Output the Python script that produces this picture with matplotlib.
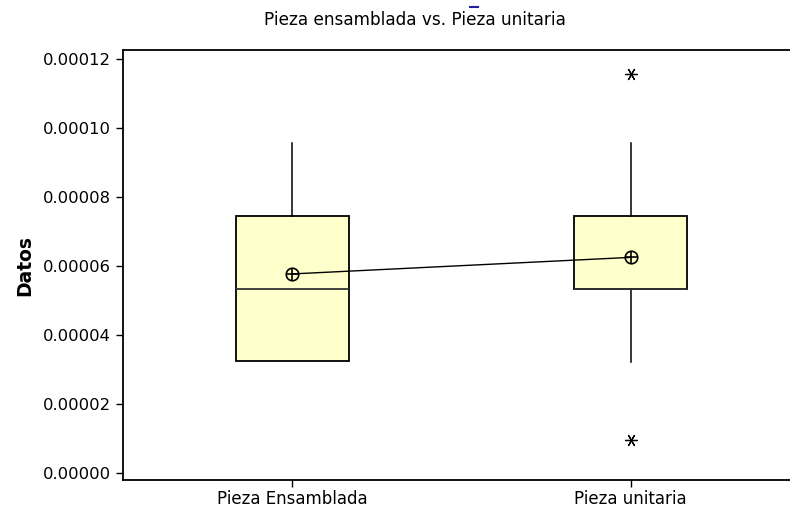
import matplotlib
matplotlib.use("Agg")
import matplotlib.pyplot as plt
from matplotlib.lines import Line2D

grupos = ["Pieza Ensamblada", "Pieza unitaria"]
q1 = [0.0000325, 0.0000533]
mediana = [0.0000533, 0.0000533]
q3 = [0.0000745, 0.0000745]
bigote_inf = [0.0000325, 0.0000323]
bigote_sup = [0.0000957, 0.0000957]
media = [0.0000577, 0.0000625]
atipicos = [[], [0.0000096, 0.0001157]]

plt.rcParams['font.family'] = ['DejaVu Sans']

fig = plt.figure(figsize=(7.9, 5.12), dpi=100)
ax = fig.add_axes([0.1557, 0.0625, 0.857, 0.8398])

stats = []
for i in range(len(grupos)):
    stats.append({'label': grupos[i], 'q1': q1[i], 'med': mediana[i], 'q3': q3[i],
                  'whislo': bigote_inf[i], 'whishi': bigote_sup[i], 'fliers': atipicos[i]})

pos = [1, 2]
ax.bxp(stats, positions=pos, widths=0.335, patch_artist=True, showcaps=False,
       boxprops={'facecolor': '#ffffcc', 'edgecolor': 'black', 'linewidth': 1.3},
       medianprops={'color': '#333333', 'linewidth': 1.3},
       whiskerprops={'color': 'black', 'linewidth': 1.1},
       flierprops={'marker': (6, 2, 90), 'markersize': 9, 'markeredgecolor': 'black',
                   'markeredgewidth': 0.9, 'linestyle': 'none'})

# medias unidas por una linea
ax.plot(pos, media, color='black', linewidth=1.0, zorder=4)
ax.plot(pos, media, linestyle='none', marker='o', markersize=9, markerfacecolor='none',
        markeredgecolor='black', markeredgewidth=1.2, zorder=5)
ax.plot(pos, media, linestyle='none', marker='+', markersize=9, markeredgecolor='black',
        markeredgewidth=1.2, zorder=5)

ax.set_xlim(0.5, 2.5)
ax.set_ylim(-0.00000203, 0.0001226)
ax.set_yticks([0, 0.00002, 0.00004, 0.00006, 0.00008, 0.0001, 0.00012])
ax.set_yticklabels(["0.00000", "0.00002", "0.00004", "0.00006", "0.00008", "0.00010", "0.00012"])
ax.set_xticks(pos)
ax.set_xticklabels(grupos)
ax.tick_params(axis='both', direction='out', length=5, width=1.0, pad=4)
ax.tick_params(axis='y', labelsize=11.8)
ax.tick_params(axis='x', labelsize=12, pad=2.5)
for s in ['left', 'bottom', 'top']:
    ax.spines[s].set_linewidth(1.3)
ax.spines['right'].set_visible(False)

ax.set_ylabel("Datos", fontsize=13.5, fontweight='bold', labelpad=6)
fig.text(0.5256, 0.96, "Pieza ensamblada vs. Pieza unitaria", ha='center', va='center', fontsize=12.2)
fig.add_artist(Line2D([0.595, 0.605], [0.987, 0.987], transform=fig.transFigure,
                      color='#2020a0', linewidth=1.5))

fig.savefig("out.png", dpi=100)
